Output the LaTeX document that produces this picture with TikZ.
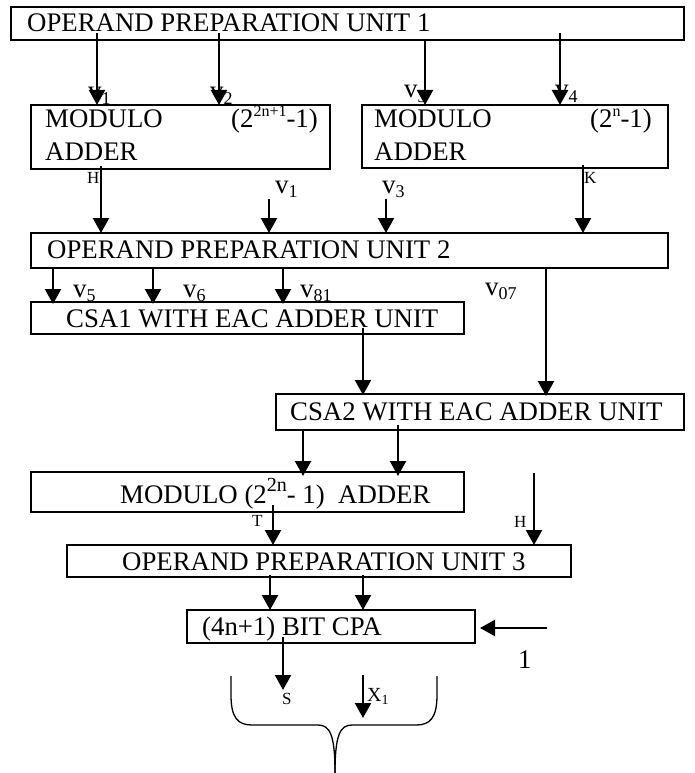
\documentclass[tikz,border=0pt]{standalone}
\usepackage{fontspec}
\setmainfont{Liberation Serif}
\usetikzlibrary{arrows.meta,calc}
\newcommand\supx[2][16]{\raisebox{0.42em}{\fontsize{#1}{#1}\selectfont #2}}
\newcommand\subx[2][18]{\raisebox{-0.15em}{\fontsize{#1}{#1}\selectfont #2}}
\begin{document}
\begin{tikzpicture}[x=1pt,y=-1pt,
  box/.style={draw, line width=2pt, anchor=north west, inner sep=0pt, outer sep=0pt},
  txt/.style={anchor=base west, inner sep=0pt, font=\fontsize{26.8}{30}\selectfont},
  lab/.style={anchor=base west, inner sep=0pt, font=\fontsize{27}{30}\selectfont},
  small/.style={anchor=base west, inner sep=0pt, font=\fontsize{17}{18}\selectfont},
  arr/.style={line width=2.2pt, -{Triangle[length=15pt,width=16pt]}},
  bracel/.style={line width=1.3pt}]
\useasboundingbox (0,0) rectangle (694,773);

% boxes
\node[box, minimum width=673pt, minimum height=33pt] (b1) at (11,7) {};
\node[box, minimum width=299pt, minimum height=64pt] (m1) at (31,105) {};
\node[box, minimum width=306pt, minimum height=63pt] (m2) at (362,105) {};
\node[box, minimum width=637pt, minimum height=35pt] (o2) at (31,233) {};
\node[box, minimum width=433pt, minimum height=32pt] (c1) at (31,302) {};
\node[box, minimum width=408pt, minimum height=36pt] (c2) at (276,394) {};
\node[box, minimum width=433pt, minimum height=40pt] (m3) at (31,472) {};
\node[box, minimum width=504pt, minimum height=32pt] (o3) at (67,545) {};
\node[box, minimum width=288pt, minimum height=33pt] (cpa) at (187,610) {};

% box texts
\node[txt] (t1) at (27,32) {OPERAND PREPARATION UNIT 1};
\node[txt] (tm1a) at (45,128) {MODULO};
\node[txt, anchor=base east] (tm1b) at (318,128) {(2\supx{2n+1}-1)};
\node[txt] (tm1c) at (45,160) {ADDER};
\node[txt] (tm2a) at (374,128) {MODULO};
\node[txt, anchor=base east] (tm2b) at (652,128) {(2\supx{n}-1)};
\node[txt] (tm2c) at (374,160) {ADDER};
\node[txt] (to2) at (47,258) {OPERAND PREPARATION UNIT 2};
\node[txt] (tc1) at (66,327) {CSA1 WITH EAC ADDER UNIT};
\node[txt] (tc2) at (290,420) {CSA2 WITH EAC ADDER UNIT};
\node[txt] (tm3) at (120,503) {MODULO (2\supx[20]{2n}- 1)\ \ ADDER};
\node[txt] (to3) at (122,570) {OPERAND PREPARATION UNIT 3};
\node[txt] (tcpa) at (202,635) {(4n+1) BIT CPA};

% labels
\node[lab] (lv1) at (88,100) {v\subx{1}};
\node[lab] (lv2) at (210,100) {v\subx{2}};
\node[lab] (lv3) at (404,98) {v\subx{3}};
\node[lab] (lv4) at (555,98) {v\subx{4}};
\node[small] (lh1) at (87,183) {H};
\node[small] (lk) at (584,183) {K};
\node[lab] (lv1b) at (275,193) {v\subx{1}};
\node[lab] (lv3b) at (382,193) {v\subx{3}};
\node[lab] (lv5) at (73,297) {v\subx{5}};
\node[lab] (lv6) at (183,297) {v\subx{6}};
\node[lab] (lv81) at (300,297) {v\subx{81}};
\node[lab] (lv07) at (485,295) {v\subx{07}};
\node[small] (lt) at (252,526) {T};
\node[small] (lh2) at (514,527) {H};
\node[txt] (lone) at (518,668) {1};
\node[small] (ls) at (282,704) {S};
\node[small, font=\fontsize{20}{20}\selectfont] (lx) at (367,701) {X\subx[14]{1}};

% free-end coordinates
\coordinate (s1) at (269,199);
\coordinate (s3) at (386,199);
\coordinate (h2) at (534,473);
\coordinate (one) at (547,628);
\coordinate (se) at (283,690);
\coordinate (xs) at (363,675);
\coordinate (xe) at (363,718);

% arrows
\draw[arr] ($(b1.south -| 97,0)+(0,-7)$) -- (m1.north -| 97,0);
\draw[arr] ($(b1.south -| 219,0)+(0,-7)$) -- (m1.north -| 219,0);
\draw[arr] (b1.south -| 425,0) -- (m2.north -| 425,0);
\draw[arr] ($(b1.south -| 560,0)+(0,-7)$) -- (m2.north -| 560,0);
\draw[arr] ($(m1.south -| 101,0)+(0,-3)$) -- (o2.north -| 101,0);
\draw[arr] (s1) -- (o2.north -| s1);
\draw[arr] (s3) -- (o2.north -| s3);
\draw[arr] ($(m2.south -| 583,0)+(0,-3)$) -- (o2.north -| 583,0);
\draw[arr] (o2.south -| 53,0) -- ($(c1.north -| 53,0)+(0,2)$);
\draw[arr] (o2.south -| 153,0) -- ($(c1.north -| 153,0)+(0,2)$);
\draw[arr] (o2.south -| 283,0) -- ($(c1.north -| 283,0)+(0,2)$);
\draw[arr] (o2.south -| 546,0) -- ($(c2.north -| 546,0)+(0,2)$);
\draw[arr] ($(c1.south -| 363,0)+(0,-6)$) -- ($(c2.north -| 363,0)+(0,1)$);
\draw[arr] (c2.south -| 303,0) -- ($(m3.north -| 303,0)+(0,4)$);
\draw[arr] ($(c2.south -| 398,0)+(0,-5)$) -- ($(m3.north -| 398,0)+(0,4)$);
\draw[arr] ($(m3.south -| 273,0)+(0,-7)$) -- (o3.north -| 273,0);
\draw[arr] (h2) -- (o3.north -| h2);
\draw[arr] ($(o3.south -| 270,0)+(0,-2)$) -- (cpa.north -| 270,0);
\draw[arr] ($(o3.south -| 363,0)+(0,-2)$) -- (cpa.north -| 363,0);
\draw[arr] (one) -- ($(cpa.east |- one)+(5,0)$);
\draw[arr] ($(cpa.south -| se)+(0,-6)$) -- (se);
\draw[arr] (xs) -- (xe);

% brace
\draw[bracel] (231,676) -- (231,695) .. controls (231,718) and (238,725) .. (252,725)
  -- (318,725) .. controls (330,725) and (335,735) .. (335,773);
\draw[bracel] (437,676) -- (437,695) .. controls (437,718) and (430,725) .. (416,725)
  -- (352,725) .. controls (340,725) and (335,735) .. (335,773);
\end{tikzpicture}
\end{document}
